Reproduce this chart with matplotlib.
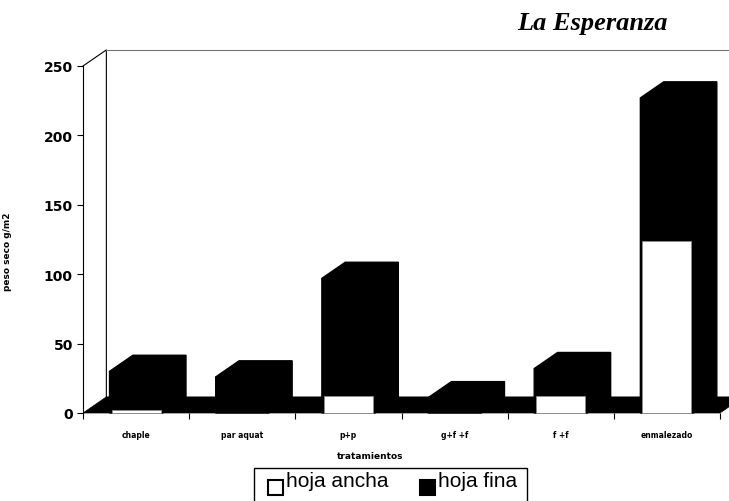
import matplotlib
matplotlib.use('Agg')
import matplotlib.pyplot as plt
from matplotlib.patches import Polygon, Rectangle

# data
tratamientos = ['chaple', 'par aquat', 'p+p', 'g+f +f', 'f +f', 'enmalezado']
hoja_ancha = [2, 0, 12, 0, 12, 124]
hoja_fina = [28, 26, 85, 11, 20, 103]
series = ['hoja ancha', 'hoja fina']
y_ticks = [0, 50, 100, 150, 200, 250]

# fake 3d look (depth offset in data units)
dx = 0.22
dy = 11.6
w = 0.5
n = len(tratamientos)
ymax = y_ticks[-1]

W, H = 729, 502
fig = plt.figure(figsize=(W/100, H/100), dpi=100)
ax = fig.add_axes([83/W, 88/H, 637/W, 347/H])
ax.set_xlim(0, n)
ax.set_ylim(0, ymax)

# back / side wall outline
ax.plot([0, dx, dx], [ymax, ymax+dy, dy], color='k', lw=0.8, clip_on=False)
ax.plot([dx, n+dx], [ymax+dy, ymax+dy], color='0.45', lw=0.8, clip_on=False)
# black floor
ax.add_patch(Polygon([(0, 0), (n, 0), (n+dx, dy), (dx, dy)], closed=True,
                     fc='k', ec='k', lw=0.5, clip_on=False, zorder=2))

# bars: whole stack drawn black, then the white front of hoja ancha
for i, (a, f) in enumerate(zip(hoja_ancha, hoja_fina)):
    x0 = i + 0.5 - w/2
    x1 = x0 + w
    top = a + f
    ax.fill([x0, x0, x0+dx, x1+dx, x1+dx, x1], [0, top, top+dy, top+dy, dy, 0],
            color='k', clip_on=False, zorder=3)
    if a > 0:
        ax.add_patch(Rectangle((x0+0.02, 0), w-0.04, a, fc='white', ec='0.55',
                               lw=0.6, zorder=4, clip_on=False))

for s in ['top', 'right', 'bottom']:
    ax.spines[s].set_visible(False)
ax.spines['left'].set_linewidth(0.8)

ax.set_yticks(y_ticks)
ax.set_yticklabels([str(t) for t in y_ticks], fontsize=10, fontweight='bold')
ax.tick_params(axis='y', direction='out', length=4.3, width=0.8, pad=3)

ax.set_xticks([i + 0.5 for i in range(n)])
ax.set_xticklabels(tratamientos, fontsize=5.5, fontweight='bold')
ax.set_xticks(range(n + 1), minor=True)
ax.tick_params(axis='x', which='major', length=0, pad=12)
ax.tick_params(axis='x', which='minor', direction='out', length=4.3, width=0.8)

fig.text(8/W, 1 - 252/H, 'peso seco g/m2', rotation=90, ha='center', va='center',
         fontsize=6.5, fontweight='bold')
fig.text(370/W, 1 - 457/H, 'tratamientos', ha='center', va='center',
         fontsize=6.5, fontweight='bold')
fig.text(592/W, 1 - 30/H, 'La Esperanza', ha='center', va='baseline',
         family='Liberation Serif', style='italic', fontweight='bold', fontsize=19)

# legend box (bottom runs off the figure)
fig.patches.append(Rectangle((254/W, 1 - 505/H), 273/W, 36/H, transform=fig.transFigure,
                             fc='white', ec='k', lw=1))
leg_x = [268, 420]
leg_fc = ['white', 'black']
for x, fc, lab in zip(leg_x, leg_fc, series):
    fig.patches.append(Rectangle((x/W, 1 - 496/H), 15/W, 15/H, transform=fig.transFigure,
                                 fc=fc, ec='k', lw=1.5))
    fig.text((x + 18)/W, 1 - 487/H, lab, ha='left', va='baseline',
             family='Liberation Sans', fontsize=15)

fig.savefig('out.png', dpi=100)
